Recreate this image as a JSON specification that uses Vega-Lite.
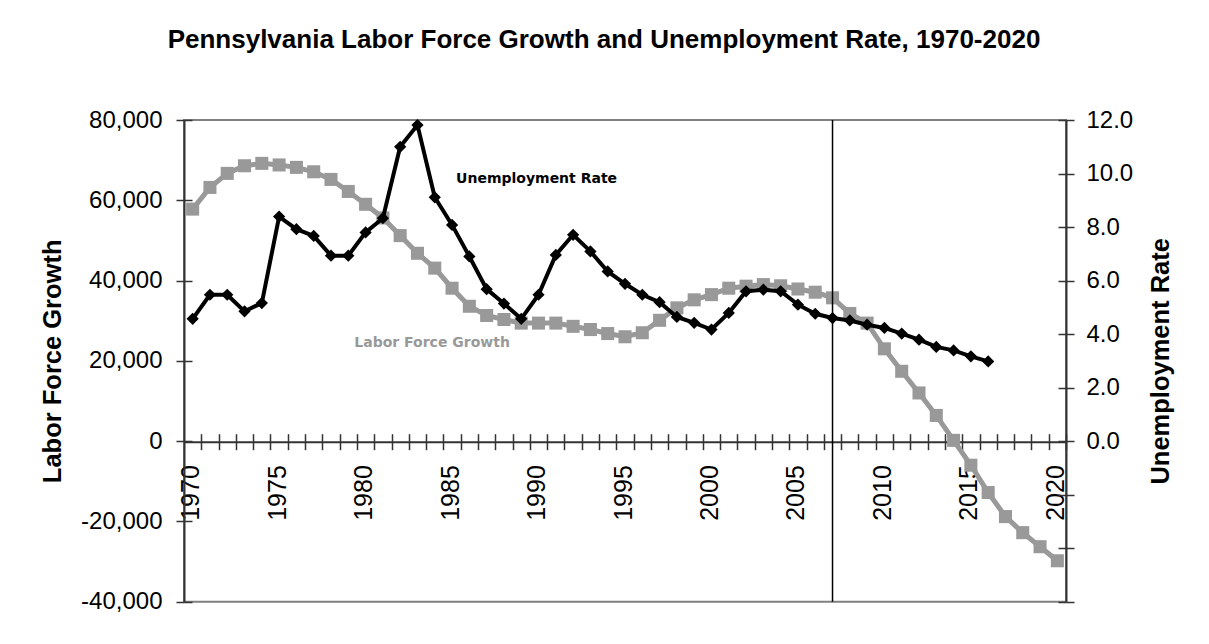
{
  "$schema": "https://vega.github.io/schema/vega-lite/v6.json",
  "width": 882,
  "height": 481.7,
  "autosize": {"type": "none"},
  "padding": {"left": 184, "top": 120, "right": 143, "bottom": 42.3},
  "background": "white",
  "title": {
    "text": "Pennsylvania Labor Force Growth and Unemployment Rate, 1970-2020",
    "font": "Liberation Sans",
    "fontSize": 26,
    "fontWeight": "bold",
    "color": "black",
    "anchor": "middle",
    "frame": "group",
    "dx": -21,
    "offset": 55
  },
  "config": {
    "view": {"stroke": "#808080", "strokeWidth": 2},
    "locale": {"number": {"decimal": ".", "thousands": ",", "grouping": [3], "currency": ["$", ""], "minus": "-"}},
    "axis": {
      "labelFont": "Liberation Sans",
      "labelFontSize": 24,
      "labelColor": "black",
      "titleFont": "Liberation Sans",
      "titleFontSize": 25.5,
      "titleFontWeight": "bold",
      "titleColor": "black",
      "domainColor": "#333333",
      "domainWidth": 2,
      "tickColor": "#333333",
      "tickWidth": 1.5,
      "grid": false
    }
  },
  "datasets": {
    "labor": [
      {"year": 1970, "labor": 57800}, {"year": 1971, "labor": 63200}, {"year": 1972, "labor": 66700},
      {"year": 1973, "labor": 68600}, {"year": 1974, "labor": 69200}, {"year": 1975, "labor": 68800},
      {"year": 1976, "labor": 68200}, {"year": 1977, "labor": 67100}, {"year": 1978, "labor": 65200},
      {"year": 1979, "labor": 62200}, {"year": 1980, "labor": 59000}, {"year": 1981, "labor": 55600},
      {"year": 1982, "labor": 51200}, {"year": 1983, "labor": 46800}, {"year": 1984, "labor": 43100},
      {"year": 1985, "labor": 38100}, {"year": 1986, "labor": 33600}, {"year": 1987, "labor": 31300},
      {"year": 1988, "labor": 30300}, {"year": 1989, "labor": 29400}, {"year": 1990, "labor": 29400},
      {"year": 1991, "labor": 29400}, {"year": 1992, "labor": 28600}, {"year": 1993, "labor": 27800},
      {"year": 1994, "labor": 26800}, {"year": 1995, "labor": 26000}, {"year": 1996, "labor": 27000},
      {"year": 1997, "labor": 30100}, {"year": 1998, "labor": 33200}, {"year": 1999, "labor": 35200},
      {"year": 2000, "labor": 36500}, {"year": 2001, "labor": 38100}, {"year": 2002, "labor": 38600},
      {"year": 2003, "labor": 39000}, {"year": 2004, "labor": 38700}, {"year": 2005, "labor": 37900},
      {"year": 2006, "labor": 37100}, {"year": 2007, "labor": 35700}, {"year": 2008, "labor": 31800},
      {"year": 2009, "labor": 29400}, {"year": 2010, "labor": 23000}, {"year": 2011, "labor": 17400},
      {"year": 2012, "labor": 12000}, {"year": 2013, "labor": 6400}, {"year": 2014, "labor": 200},
      {"year": 2015, "labor": -6000}, {"year": 2016, "labor": -12800}, {"year": 2017, "labor": -18800},
      {"year": 2018, "labor": -22800}, {"year": 2019, "labor": -26300}, {"year": 2020, "labor": -29800}
    ],
    "unemp": [
      {"year": 1970, "rate": 4.57}, {"year": 1971, "rate": 5.47}, {"year": 1972, "rate": 5.47},
      {"year": 1973, "rate": 4.85}, {"year": 1974, "rate": 5.16}, {"year": 1975, "rate": 8.39},
      {"year": 1976, "rate": 7.92}, {"year": 1977, "rate": 7.67}, {"year": 1978, "rate": 6.93},
      {"year": 1979, "rate": 6.93}, {"year": 1980, "rate": 7.8}, {"year": 1981, "rate": 8.33},
      {"year": 1982, "rate": 11.0}, {"year": 1983, "rate": 11.81}, {"year": 1984, "rate": 9.11},
      {"year": 1985, "rate": 8.08}, {"year": 1986, "rate": 6.9}, {"year": 1987, "rate": 5.68},
      {"year": 1988, "rate": 5.14}, {"year": 1989, "rate": 4.57}, {"year": 1990, "rate": 5.47},
      {"year": 1991, "rate": 6.96}, {"year": 1992, "rate": 7.71}, {"year": 1993, "rate": 7.09},
      {"year": 1994, "rate": 6.34}, {"year": 1995, "rate": 5.88}, {"year": 1996, "rate": 5.47},
      {"year": 1997, "rate": 5.19}, {"year": 1998, "rate": 4.64}, {"year": 1999, "rate": 4.42},
      {"year": 2000, "rate": 4.17}, {"year": 2001, "rate": 4.79}, {"year": 2002, "rate": 5.6},
      {"year": 2003, "rate": 5.66}, {"year": 2004, "rate": 5.6}, {"year": 2005, "rate": 5.1},
      {"year": 2006, "rate": 4.76}, {"year": 2007, "rate": 4.6}, {"year": 2008, "rate": 4.51},
      {"year": 2009, "rate": 4.35}, {"year": 2010, "rate": 4.23}, {"year": 2011, "rate": 4.02},
      {"year": 2012, "rate": 3.79}, {"year": 2013, "rate": 3.52}, {"year": 2014, "rate": 3.39},
      {"year": 2015, "rate": 3.17}, {"year": 2016, "rate": 2.98}
    ]
  },
  "resolve": {"scale": {"y": "independent"}, "axis": {"x": "independent", "y": "independent"}},
  "layer": [
    {
      "data": {"name": "labor"},
      "resolve": {"axis": {"x": "independent", "y": "independent"}},
      "layer": [
        {
          "mark": {"type": "line", "color": "#999999", "strokeWidth": 5},
          "encoding": {
            "x": {
              "field": "year", "type": "ordinal",
              "scale": {"type": "point", "padding": 0.5, "domain": [1970,1971,1972,1973,1974,1975,1976,1977,1978,1979,1980,1981,1982,1983,1984,1985,1986,1987,1988,1989,1990,1991,1992,1993,1994,1995,1996,1997,1998,1999,2000,2001,2002,2003,2004,2005,2006,2007,2008,2009,2010,2011,2012,2013,2014,2015,2016,2017,2018,2019,2020]},
              "axis": {"orient": "bottom", "offset": -160, "values": [1970,1975,1980,1985,1990,1995,2000,2005,2010,2015,2020], "labelAngle": 270, "ticks": false, "tickSize": 0, "labelPadding": 23, "labelFontSize": 25, "labelOffset": -2, "domain": true, "title": null}
            },
            "y": {
              "field": "labor", "type": "quantitative",
              "scale": {"domain": [-40000, 80000], "nice": false, "zero": false},
              "axis": {"orient": "left", "values": [-40000,-20000,0,20000,40000,60000,80000], "labelExpr": "replace(format(datum.value, ',d'), '\u2212', '-')", "tickSize": 8, "labelPadding": 14, "title": "Labor Force Growth", "titlePadding": 15}
            }
          }
        },
        {
          "mark": {"type": "point", "shape": "square", "filled": true, "color": "#999999", "size": 170, "opacity": 1},
          "encoding": {
            "x": {
              "field": "year", "type": "ordinal",
              "axis": {"orient": "bottom", "offset": -160, "tickSize": 8, "tickOffset": 8.647, "labels": false, "domain": false, "title": null}
            },
            "y": {
              "field": "labor", "type": "quantitative",
              "axis": {"orient": "right", "offset": -882, "values": [-40000,-20000,0,20000,40000,60000,80000], "tickSize": 8, "labels": false, "domain": false, "title": null}
            }
          }
        },
        {
          "data": {"values": [{"year": 1979, "labor": 24400, "label": "Labor Force Growth"}]},
          "mark": {"type": "text", "align": "left", "baseline": "middle", "font": "DejaVu Sans", "fontWeight": "bold", "fontSize": 14, "color": "#999999", "dx": 6},
          "encoding": {
            "x": {
              "field": "year", "type": "ordinal",
              "axis": {"orient": "top", "offset": -321.7, "tickSize": 8, "tickOffset": 8.647, "labels": false, "domain": false, "title": null}
            },
            "y": {"field": "labor", "type": "quantitative", "axis": null},
            "text": {"field": "label"}
          }
        }
      ]
    },
    {
      "data": {"name": "unemp"},
      "resolve": {"axis": {"x": "independent", "y": "independent"}},
      "layer": [
        {
          "mark": {"type": "line", "color": "black", "strokeWidth": 4},
          "encoding": {
            "x": {"field": "year", "type": "ordinal", "axis": null},
            "y": {
              "field": "rate", "type": "quantitative",
              "scale": {"domain": [-6, 12], "nice": false, "zero": false},
              "axis": {"orient": "right", "values": [-6,-4,-2,0,2,4,6,8,10,12], "labelExpr": "datum.value < 0 ? '' : format(datum.value, '.1f')", "tickSize": 8, "labelPadding": 12, "title": "Unemployment Rate", "titleAngle": 270, "titlePadding": 41}
            }
          }
        },
        {
          "mark": {"type": "point", "shape": "diamond", "filled": true, "color": "black", "size": 150, "opacity": 1},
          "encoding": {
            "x": {"field": "year", "type": "ordinal", "axis": null},
            "y": {
              "field": "rate", "type": "quantitative",
              "axis": {"orient": "left", "offset": -882, "values": [-6,-4,-2,0,2,4,6,8,10,12], "tickSize": 8, "labels": false, "domain": false, "title": null}
            }
          }
        },
        {
          "data": {"values": [{"year": 1985, "rate": 9.8, "label": "Unemployment Rate"}]},
          "mark": {"type": "text", "align": "left", "baseline": "middle", "font": "DejaVu Sans", "fontWeight": "bold", "fontSize": 14, "color": "black", "dx": 4},
          "encoding": {
            "x": {"field": "year", "type": "ordinal", "axis": null},
            "y": {"field": "rate", "type": "quantitative", "axis": null},
            "text": {"field": "label"}
          }
        },
        {
          "data": {"values": [{"year": 2007}]},
          "mark": {"type": "rule", "color": "black", "strokeWidth": 1.5},
          "encoding": {
            "x": {"field": "year", "type": "ordinal", "axis": null}
          }
        }
      ]
    }
  ]
}
